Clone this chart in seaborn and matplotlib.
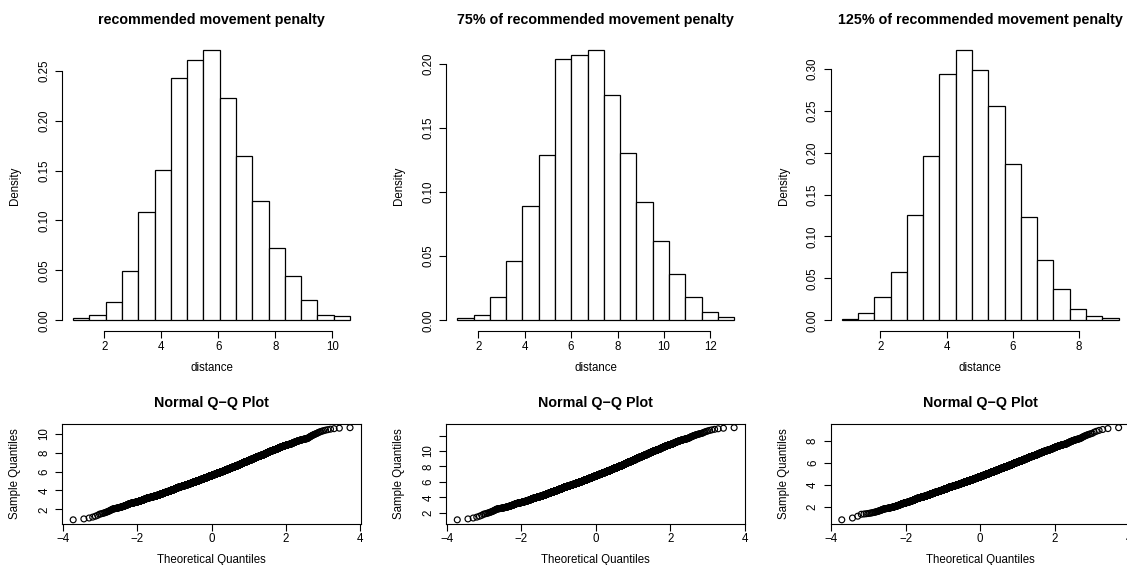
import numpy as np
import pandas as pd
import matplotlib
matplotlib.use("Agg")
import matplotlib.pyplot as plt
import seaborn as sns
from statistics import NormalDist
from matplotlib.ticker import FormatStrFormatter

# ---- data: distance travelled under three movement-penalty settings ----
n_runs = 5000

titles = ["recommended movement penalty",
          "75% of recommended movement penalty",
          "125% of recommended movement penalty"]

# (min, max) distance spanned by the 17 equal-width histogram bins
range_rec = (0.91, 10.62)
range_75 = (1.10, 13.02)
range_125 = (0.83, 9.21)

# density of each bin
dens_rec = [0.0020, 0.0050, 0.0181, 0.0489, 0.1084, 0.1509, 0.2423, 0.2610,
            0.2704, 0.2226, 0.1643, 0.1198, 0.0723, 0.0442, 0.0201, 0.0050,
            0.0040]
dens_75 = [0.0016, 0.0039, 0.0180, 0.0466, 0.0891, 0.1289, 0.2039, 0.2070,
           0.2104, 0.1760, 0.1307, 0.0919, 0.0622, 0.0359, 0.0185, 0.0065,
           0.0029]
dens_125 = [0.0012, 0.0084, 0.0283, 0.0582, 0.1251, 0.1960, 0.2932, 0.3219,
            0.2984, 0.2554, 0.1869, 0.1235, 0.0717, 0.0371, 0.0139, 0.0048,
            0.0024]

# axis ticks
dist_ticks = [[2, 4, 6, 8, 10], [2, 4, 6, 8, 10, 12], [2, 4, 6, 8]]
dens_ticks = [[0.00, 0.05, 0.10, 0.15, 0.20, 0.25],
              [0.00, 0.05, 0.10, 0.15, 0.20],
              [0.00, 0.05, 0.10, 0.15, 0.20, 0.25, 0.30]]
qq_x_ticks = [-4, -2, 0, 2, 4]
qq_y_ticks = [[2, 4, 6, 8, 10], [2, 4, 6, 8, 10, 12], [2, 4, 6, 8]]
qq_y_labels = [["2", "4", "6", "8", "10"],
               ["2", "4", "6", "8", "10", ""],
               ["2", "4", "6", "8"]]

ranges = [range_rec, range_75, range_125]
densities = [dens_rec, dens_75, dens_125]

# ---- helpers ----
def r_limits(lo, hi):
    """Axis limits padded by 4% on both sides."""
    d = (hi - lo) * 0.04
    return lo - d, hi + d


def sample_from_bins(lo, hi, dens, n):
    """Spread n observations through the bins according to their density."""
    dens = np.asarray(dens, dtype=float)
    edges = np.linspace(lo, hi, len(dens) + 1)
    counts = np.round(dens / dens.sum() * n).astype(int)
    last = len(dens) - 1
    parts = []
    for i, c in enumerate(counts):
        if c == 0:
            continue
        k = np.arange(c)
        if i == 0:
            frac = k / c
        elif i == last:
            frac = (k + 1) / c
        else:
            frac = (k + 0.5) / c
        parts.append(edges[i] + (edges[i + 1] - edges[i]) * frac)
    return np.sort(np.concatenate(parts))


def normal_scores(m):
    nd = NormalDist()
    p = (np.arange(1, m + 1) - 0.5) / m
    return np.array([nd.inv_cdf(v) for v in p])


# ---- styling ----
sns.set_theme(style="white")
plt.rcParams["font.family"] = ["Liberation Sans", "DejaVu Sans"]
plt.rcParams["axes.linewidth"] = 0.8
plt.rcParams["axes.edgecolor"] = "black"
plt.rcParams["text.color"] = "black"
plt.rcParams["axes.labelcolor"] = "black"
plt.rcParams["xtick.color"] = "black"
plt.rcParams["ytick.color"] = "black"

W, H = 1127, 565
fig = plt.figure(figsize=(W / 100, H / 100), dpi=100)
fig.patch.set_facecolor("white")

col_left = [62.1, 446.2, 830.7]
panel_w = 299.0
hist_top, hist_bottom = 39.6, 331.1
qq_top, qq_bottom = 424.0, 523.5
ylab_offset = 47.0  # distance of the y-axis title from the plot's left edge

FS = 8.3
TFS = 10.3


def px_axes(left, top, bottom):
    return fig.add_axes([left / W, (H - bottom) / H, panel_w / W,
                         (bottom - top) / H])


for j in range(3):
    lo, hi = ranges[j]
    dens = np.asarray(densities[j])
    edges = np.linspace(lo, hi, len(dens) + 1)
    bins_df = pd.DataFrame({"distance": (edges[:-1] + edges[1:]) / 2,
                            "density": dens})

    # histogram of distance (density scale)
    ax = px_axes(col_left[j], hist_top, hist_bottom)
    ax.set_facecolor("white")
    sns.histplot(data=bins_df, x="distance", weights="density",
                 bins=list(edges), stat="count", ax=ax, color="white",
                 edgecolor="black", linewidth=0.9, alpha=1)
    ax.set_xlim(*r_limits(lo, hi))
    ax.set_ylim(*r_limits(0, dens.max()))
    for s in ["top", "right"]:
        ax.spines[s].set_visible(False)
    ax.spines["bottom"].set_bounds(dist_ticks[j][0], dist_ticks[j][-1])
    ax.spines["left"].set_bounds(dens_ticks[j][0], dens_ticks[j][-1])
    ax.set_xticks(dist_ticks[j])
    ax.set_yticks(dens_ticks[j])
    ax.yaxis.set_major_formatter(FormatStrFormatter("%.2f"))
    ax.tick_params(axis="both", direction="out", length=5, width=0.8,
                   labelsize=FS, left=True, bottom=True)
    ax.tick_params(axis="x", pad=2.2)
    ax.tick_params(axis="y", pad=3.5, labelrotation=90)
    for t in ax.get_yticklabels():
        t.set_verticalalignment("center")
    ax.set_xlabel("distance", fontsize=FS, va="center")
    ax.set_ylabel("Density", fontsize=FS, va="center")
    ax.xaxis.set_label_coords(0.5, -(368 - hist_bottom) / (hist_bottom - hist_top))
    ax.yaxis.set_label_coords(-ylab_offset / panel_w, 0.5)
    ax.set_title(titles[j], fontsize=TFS, fontweight="bold", va="center",
                 pad=0, y=1 + 20.0 / (hist_bottom - hist_top))

    # normal Q-Q plot of the same distances
    sample = sample_from_bins(lo, hi, dens, n_runs)
    qq_df = pd.DataFrame({"theoretical": normal_scores(len(sample)),
                          "sample": sample})
    axq = px_axes(col_left[j], qq_top, qq_bottom)
    axq.set_facecolor("white")
    sns.scatterplot(data=qq_df, x="theoretical", y="sample", ax=axq,
                    marker="o", s=18, facecolors="none", edgecolors="black",
                    linewidth=0.85)
    axq.set_xlim(*r_limits(qq_df["theoretical"].min(), qq_df["theoretical"].max()))
    axq.set_ylim(*r_limits(sample.min(), sample.max()))
    for s in axq.spines.values():
        s.set_visible(True)
        s.set_linewidth(0.8)
    axq.set_xticks(qq_x_ticks)
    axq.set_yticks(qq_y_ticks[j])
    axq.set_yticklabels(qq_y_labels[j])
    axq.tick_params(axis="both", direction="out", length=5, width=0.8,
                    labelsize=FS, left=True, bottom=True)
    axq.tick_params(axis="x", pad=2.2)
    axq.tick_params(axis="y", pad=3.5, labelrotation=90)
    for t in axq.get_yticklabels():
        t.set_verticalalignment("center")
    axq.set_xlabel("Theoretical Quantiles", fontsize=FS, va="center")
    axq.set_ylabel("Sample Quantiles", fontsize=FS, va="center")
    axq.xaxis.set_label_coords(0.5, -(560 - qq_bottom) / (qq_bottom - qq_top))
    axq.yaxis.set_label_coords(-ylab_offset / panel_w, 0.5)
    axq.set_title("Normal Q\u2212Q Plot", fontsize=TFS, fontweight="bold",
                  va="center", pad=0, y=1 + 21.0 / (qq_bottom - qq_top))

fig.savefig("out.png", dpi=100, facecolor="white")
